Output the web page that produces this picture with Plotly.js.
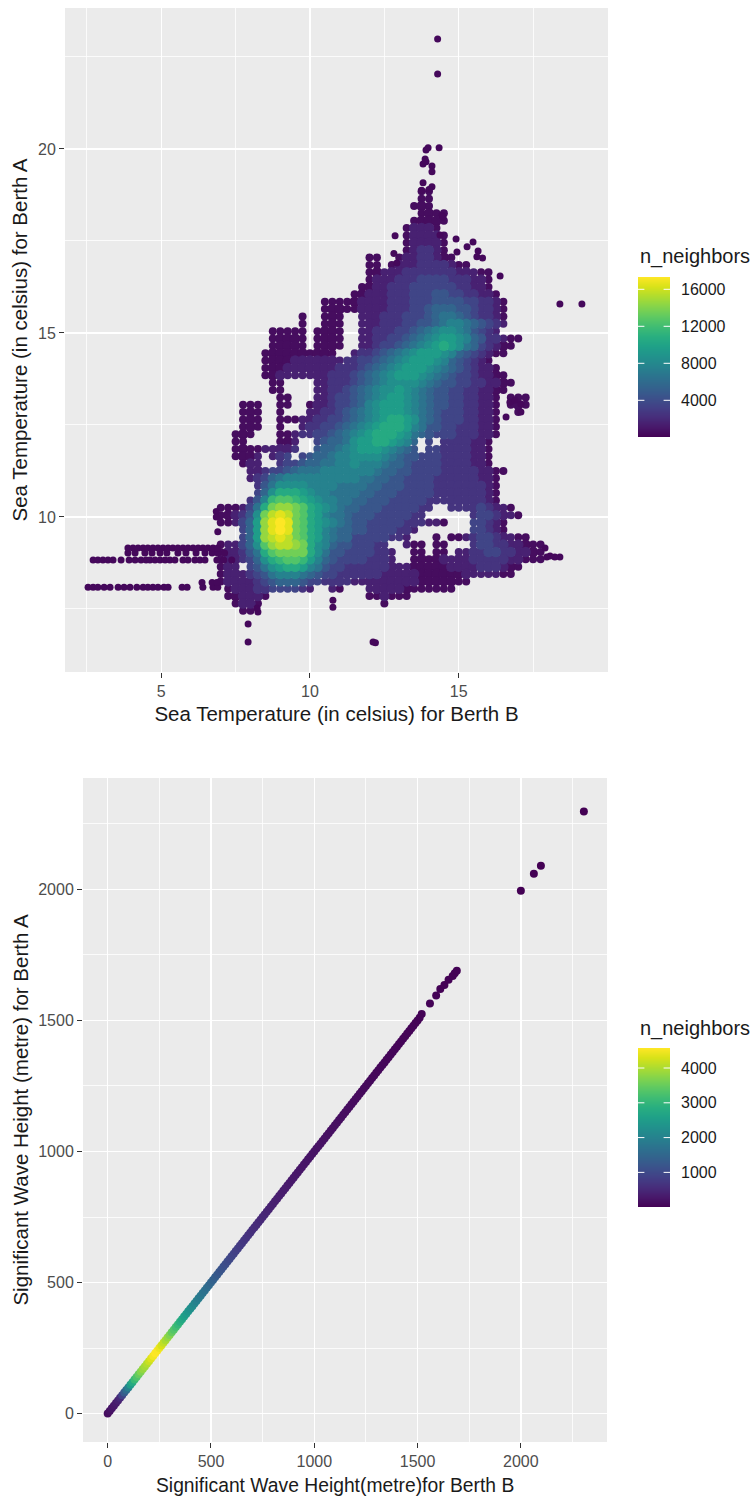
<!DOCTYPE html>
<html><head><meta charset="utf-8">
<script src="https://cdn.plot.ly/plotly-3.0.1.min.js"></script>
<style>html,body{margin:0;padding:0;background:#fff}#c{width:753px;height:1502px}</style>
</head><body><div id="c"></div>
<script>
// Sea temperature density table. One text row per 0.2 degC of Berth A,
// one character per 0.25 degC of Berth B; character = n_neighbors in thousands (base 36), "." = no data.
const tempFirstB = 7, tempStepB = 0.25, tempFirstA = 18.85, tempStepA = 0.2;
const tempRows = [
"...........................00",
"...........................00",
"..........................000",
"...........................0000",
"..........................00000",
".........................01110",
".........................011110",
".........................011110",
".........................012210",
"....................00..01122100",
"....................00.01112222100",
"....................00111222222211100",
"....................01112223333222110",
"...................001122233333322110",
"..................00111222333443322110",
"..............0000011112223334444332210",
"..............0000011112223345554432210",
"...........0..000..11122233345665432210",
"...........0..000..11122233445677654321",
".......00000.0000..1122233456788764321",
".......00000.0000..1122334567899875422100",
".......00000.0000..11233456789a986532100",
"......0000000000..122345678999875432100",
"......0000111111122334567899987543210",
"......00011111112223456789998765432110",
"......001111111222345678999876543321100",
".......00....112223456788887654433221100",
".......00....11223456788987654433221100",
"........00...1123345678998765443322110.000",
"...000..00..01123345789998765443322110.000",
"...000..0...11223456789998765433322110..0",
"...000..000112233456789aa9865433322110",
"...000..0..12233456789aaa9764433222110",
"..000...0012233456789aaa98654333222110",
"..00....001..34556899aa9875.3.2222110",
"..000011112..45567899987654.332222110",
"..0001.123.34556778888765443332222110",
"...011..23345566778777655433332222110",
"...."+"1123"+"3456667777"+"7776554"+"43333222221100",
"...."+"1235"+"6777777777"+"7665544"+"3333222222110",
"....."+"246"+"8888777766"+"6655444"+"3333222222210",
"....."+"358"+"aaa9877666"+"6554443"+"3333222222210",
"...."+"247b"+"ccba987766"+"5544433"+"3332222222210",
"0001"+"36ad"+"eedca98765"+"5444333"+"3322"+".."+"222232110",
"0012"+"48df"+"gfdca97665"+"4443333"+"322"+"......"+"2332110",
"0013"+"59eg"+"hgdca98765"+"4433333"+"222110"+"..."+"33210",
"..."+"3"+"59eg"+"hgdca97655"+"4433332"+"21"+"......."+"33210",
"..."+"3"+"59ef"+"gfdca97655"+"3333322"+"1"+"..."+"0"+"."+"00123321100",
"0113"+"58ce"+"ffeda87544"+"33322"+".."+"100"+"."+"00"+"..."+"2332211000",
"0112"+"46ac"+"dddda86443"+"333221"+".."+"00"+"."+"00"+"."+"112233221100",
"0112"+"358a"+"bccb975433"+"332221"+".."+"000011112222211000",
"011"+"."+"3468"+"9aa9764332"+"2222211"+"1000001111222100",
"0111"+"2346"+"7776543322"+"2222111"+"110000001111100",
"0111"+"1234"+"5554332222"+"1111111"+"110000000",
"."+"011"+"1223"+"33321"+".."+"10"+"..."+"111110000000",
".001110.............001000",
"..0110................0",
"...00"
];

// Stray points around the dense cloud (Berth B, Berth A)
const strayB = [14.29,14.29,13.97,14.34,13.9,13.87,13.8,13.9,14.1,14.1,13.8,14.1,13.75,14.0,
  12.86,12.82,12.92,14.37,14.91,15.48,15.28,14.94,15.65,15.61,15.8,16.39,14.44,14.47,
  16.72,16.89,17.09,17.09,16.59,17.9,18.4,18.23,18.07,17.96,18.4,19.14,
  8.25,8.22,10.77,10.77,7.92,7.92,12.12,12.2,6.85,6.85,6.9];
const strayA = [22.99,22.04,20.03,20.03,19.97,19.73,19.59,19.65,19.54,19.38,19.08,18.97,18.88,18.9,
  17.64,17.16,16.9,17.66,17.55,17.47,17.34,17.2,17.23,17.07,17.04,16.55,18.2,18.15,
  13.12,13.18,13.07,12.85,12.72,9.16,8.91,8.91,8.94,8.91,15.79,15.79,
  7.42,7.52,7.74,7.55,7.09,6.6,6.6,6.58,10.15,10.0,9.6];
// Long cold tails to the left of the cloud
const tailB = [2.71,2.87,3.04,3.21,3.38,3.65,3.92,4.12,4.32,4.49,4.62,4.79,4.96,5.13,5.29,5.46,5.73,5.9,6.13,6.3,6.47,6.87,7.1,7.37,
  3.88,4.12,4.45,4.69,4.96,5.19,5.56,5.83,6.17,6.47,6.71,6.9,7.13,
  3.88,4.05,4.22,4.39,4.55,4.72,4.89,5.06,5.23,5.39,5.56,5.73,5.9,6.07,6.24,6.4,6.57,6.74,6.9,
  2.54,2.71,2.87,3.08,3.28,3.55,3.75,3.95,4.18,4.39,4.55,4.72,4.89,5.09,5.23,5.7,5.87,6.4,6.74,6.9,
  6.37,6.71,6.87];
const tailA = [8.83,8.83,8.83,8.83,8.83,8.83,8.83,8.83,8.83,8.83,8.83,8.83,8.83,8.83,8.83,8.83,8.83,8.83,8.83,8.83,8.83,8.83,8.83,8.83,
  9.02,9.02,9.02,9.02,9.02,9.02,9.02,9.02,9.02,9.02,9.02,9.02,9.02,
  9.16,9.16,9.16,9.16,9.16,9.16,9.16,9.16,9.16,9.16,9.16,9.16,9.16,9.16,9.16,9.16,9.16,9.16,9.16,
  8.09,8.09,8.09,8.09,8.09,8.09,8.09,8.09,8.09,8.09,8.09,8.09,8.09,8.09,8.09,8.09,8.09,8.09,8.09,8.09,
  8.22,8.22,8.22];

// Wave height points
const waveB = [0,10,20,30,40,50,60,70,80,90,100,110,120,130,140,150,160,170,180,190,200,210,220,230,240,250,260,270,280,290,
 300,310,320,330,340,350,360,370,380,390,400,410,420,430,440,450,460,470,480,490,500,510,520,530,540,550,560,570,580,590,
 600,610,620,630,640,650,660,670,680,690,700,710,720,730,740,750,760,770,780,790,800,810,820,830,840,850,860,870,880,890,
 900,910,920,930,940,950,960,970,980,990,1000,1010,1020,1030,1040,1050,1060,1070,1080,1090,1100,1110,1120,1130,1140,1150,1160,1170,1180,1190,
 1200,1210,1220,1230,1240,1250,1260,1270,1280,1290,1300,1310,1320,1330,1340,1350,1360,1370,1380,1390,1400,1410,1420,1430,1440,1450,1460,1470,1480,1490,
 1500,1510,1520,1560,1590,1610,1630,1650,1670,1680,1690,2000,2063,2097,2305];
const waveA = [0,10,20,30,40,50,60,70,80,90,100,110,120,130,140,150,160,170,180,190,200,210,220,230,240,250,260,270,280,290,
 300,310,320,330,340,350,360,370,380,390,400,410,420,430,440,450,460,470,480,490,500,510,520,530,540,550,560,570,580,590,
 600,610,620,630,640,650,660,670,680,690,700,710,720,730,740,750,760,770,780,790,800,810,820,830,840,850,860,870,880,890,
 900,910,920,930,940,950,960,970,980,990,1000,1010,1020,1030,1040,1050,1060,1070,1080,1090,1100,1110,1120,1130,1140,1150,1160,1170,1180,1190,
 1200,1210,1220,1230,1240,1250,1260,1270,1280,1290,1300,1310,1320,1330,1340,1350,1360,1370,1380,1390,1400,1410,1420,1430,1440,1450,1460,1470,1480,1490,
 1500,1510,1525,1565,1595,1620,1635,1655,1670,1680,1690,1995,2060,2090,2297];
const waveN = [150,200,250,280,330,400,520,900,1300,1600,2000,2500,2800,3100,3300,3500,3700,3850,3950,4050,4200,4350,4500,4580,4550,4450,4300,4150,4000,3850,
 3700,3500,3350,3200,3050,2900,2750,2600,2500,2400,2300,2200,2100,2000,1900,1850,1780,1720,1650,1570,1500,1430,1370,1300,1240,1190,1140,1090,1040,990,
 950,910,870,830,790,760,730,700,670,640,610,590,570,550,530,510,490,470,450,430,410,400,390,375,360,350,340,330,320,310,
 300,290,285,280,270,260,255,250,240,235,230,225,220,215,210,205,200,195,190,185,180,175,170,165,160,155,150,145,140,135,
 130,125,120,115,110,105,100,100,95,95,90,85,85,80,80,75,70,70,65,65,60,60,55,55,50,50,45,45,40,40,
 35,30,30,25,25,20,20,20,15,15,15,10,10,10,5];

const tempTicks = [5,10,15], tempATicks = [10,15,20];
const tempMinorB = [2.5,7.5,12.5,17.5], tempMinorA = [7.5,12.5,17.5,22.5];
const waveTicks = [0,500,1000,1500,2000];
const waveMinorB = [250,750,1250,1750,2250], waveMinorA = [250,750,1250,1750,2250];
const tempScaleTicks = [4000,8000,12000,16000], tempScaleRange = [33,17330];
const waveScaleTicks = [1000,2000,3000,4000], waveScaleRange = [5,4575];

// Decode the table
const cells = [];
tempRows.forEach((row,j)=>{ for(let i=0;i<row.length;i++){ if(row[i]!=='.'){
  const has=(a,b)=>tempRows[a]&&tempRows[a][b]&&tempRows[a][b]!=='.';
  const inner=has(j-1,i)&&has(j+1,i)&&has(j,i-1)&&has(j,i+1);
  cells.push({x:tempFirstB+tempStepB*i,y:tempFirstA-tempStepA*j,n:parseInt(row[i],36)*1000+600,s:inner?10.5:8});
}}});
cells.sort((a,b)=>a.n-b.n);
const W=753,H=1502, fx=p=>p/W, fy=p=>1-p/H;
const cs='Viridis', font='"Liberation Sans", Arial, sans-serif';
const ink='#4D4D4D', tk='#333333';
const TICK=16;

function axis(dom,range,ticks,minor,title,standoff,titleSize){return {
  domain:dom,range:range,tickmode:'array',tickvals:ticks,ticktext:ticks.map(String),
  showgrid:true,gridcolor:'#FFFFFF',gridwidth:1.4,zeroline:false,showline:false,
  ticks:'outside',ticklen:5,tickwidth:1,tickcolor:tk,tickfont:{family:font,size:TICK,color:ink},
  minor:{tickmode:'array',tickvals:minor,showgrid:true,gridcolor:'#FFFFFF',gridwidth:0.8,ticks:''},
  title:{text:title,font:{family:font,size:titleSize,color:'#1a1a1a'},standoff:standoff},automargin:false};}

const traces=[
 {type:'scatter',mode:'markers',x:cells.map(c=>c.x),y:cells.map(c=>c.y),xaxis:'x',yaxis:'y',hoverinfo:'skip',
  marker:{size:cells.map(c=>c.s),opacity:1,line:{width:0},color:cells.map(c=>c.n),colorscale:cs,cmin:tempScaleRange[0],cmax:tempScaleRange[1],showscale:false}},
 {type:'scatter',mode:'markers',x:strayB.concat(tailB),y:strayA.concat(tailA),xaxis:'x',yaxis:'y',hoverinfo:'skip',
  marker:{size:7,opacity:1,line:{width:0},color:'#45085b'}},
 {type:'scatter',mode:'markers',x:waveB,y:waveA,xaxis:'x2',yaxis:'y2',hoverinfo:'skip',
  marker:{size:8,opacity:1,line:{width:0},color:waveN,colorscale:cs,cmin:waveScaleRange[0],cmax:waveScaleRange[1],showscale:false}},
 {type:'heatmap',x:[0,1],y:tempScaleRange,z:[[tempScaleRange[0],tempScaleRange[0]],[tempScaleRange[1],tempScaleRange[1]]],
  zsmooth:'best',colorscale:cs,zmin:tempScaleRange[0],zmax:tempScaleRange[1],showscale:false,xaxis:'x3',yaxis:'y3',hoverinfo:'skip'},
 {type:'heatmap',x:[0,1],y:waveScaleRange,z:[[waveScaleRange[0],waveScaleRange[0]],[waveScaleRange[1],waveScaleRange[1]]],
  zsmooth:'best',colorscale:cs,zmin:waveScaleRange[0],zmax:waveScaleRange[1],showscale:false,xaxis:'x4',yaxis:'y4',hoverinfo:'skip'}
];
function scaleY(dom,range,ticks,anchor){return {domain:dom,range:range,tickmode:'array',tickvals:ticks,ticktext:ticks.map(String),side:'right',anchor:anchor,
  showgrid:false,zeroline:false,showline:false,ticks:'',ticklabelstandoff:10,tickfont:{family:font,size:TICK,color:'#1a1a1a'}};}
const hiddenX=(dom,anchor)=>({domain:dom,range:[0,1],showgrid:false,zeroline:false,showline:false,showticklabels:false,ticks:'',anchor:anchor});
function scaleTicks(ticks,xr,yr){const out=[];ticks.forEach(t=>{[[0,0.2],[0.8,1]].forEach(p=>{
  out.push({type:'line',xref:xr,yref:yr,x0:p[0],x1:p[1],y0:t,y1:t,line:{color:'#FFFFFF',width:1},layer:'above'});});});return out;}

const waveXTitleAxis = axis([fx(83),fx(607)],[-119.6,2417],waveTicks,waveMinorB,'',8,19.3);
delete waveXTitleAxis.title;
const layout={width:W,height:H,margin:{l:0,r:0,t:0,b:0},paper_bgcolor:'#FFFFFF',plot_bgcolor:'#EBEBEB',showlegend:false,hovermode:false,
 xaxis:Object.assign(axis([fx(65),fx(608)],[1.765,20.017],tempTicks,tempMinorB,'Sea Temperature (in celsius) for Berth B',7,20.5),{anchor:'y'}),
 yaxis:Object.assign(axis([fy(672),fy(8)],[5.788,23.83],tempATicks,tempMinorA,'Sea Temperature (in celsius) for Berth A',4,20.5),{anchor:'x'}),
 xaxis2:Object.assign(waveXTitleAxis,{anchor:'y2'}),
 yaxis2:Object.assign(axis([fy(1442),fy(778)],[-108.4,2425],waveTicks,waveMinorA,'Significant Wave Height (metre) for Berth A',4,20.5),{anchor:'x2'}),
 xaxis3:hiddenX([fx(638),fx(670)],'y3'),
 yaxis3:scaleY([fy(437),fy(277)],tempScaleRange,tempScaleTicks,'x3'),
 xaxis4:hiddenX([fx(638),fx(670)],'y4'),
 yaxis4:scaleY([fy(1207),fy(1048)],waveScaleRange,waveScaleTicks,'x4'),
 shapes:scaleTicks(tempScaleTicks,'x3','y3').concat(scaleTicks(waveScaleTicks,'x4','y4')),
 annotations:[
  {xref:'paper',yref:'paper',x:fx(335),y:fy(1485),xanchor:'center',yanchor:'middle',showarrow:false,text:'Significant Wave Height(metre)for Berth B',font:{family:font,size:19.3,color:'#1a1a1a'}},
  {xref:'paper',yref:'paper',x:fx(638),y:fy(257),xanchor:'left',yanchor:'middle',showarrow:false,text:'n_neighbors',font:{family:font,size:20,color:'#1a1a1a'}},
  {xref:'paper',yref:'paper',x:fx(638),y:fy(1028),xanchor:'left',yanchor:'middle',showarrow:false,text:'n_neighbors',font:{family:font,size:20,color:'#1a1a1a'}}
 ]};
Plotly.newPlot('c',traces,layout,{displayModeBar:false,staticPlot:true});
</script></body></html>
